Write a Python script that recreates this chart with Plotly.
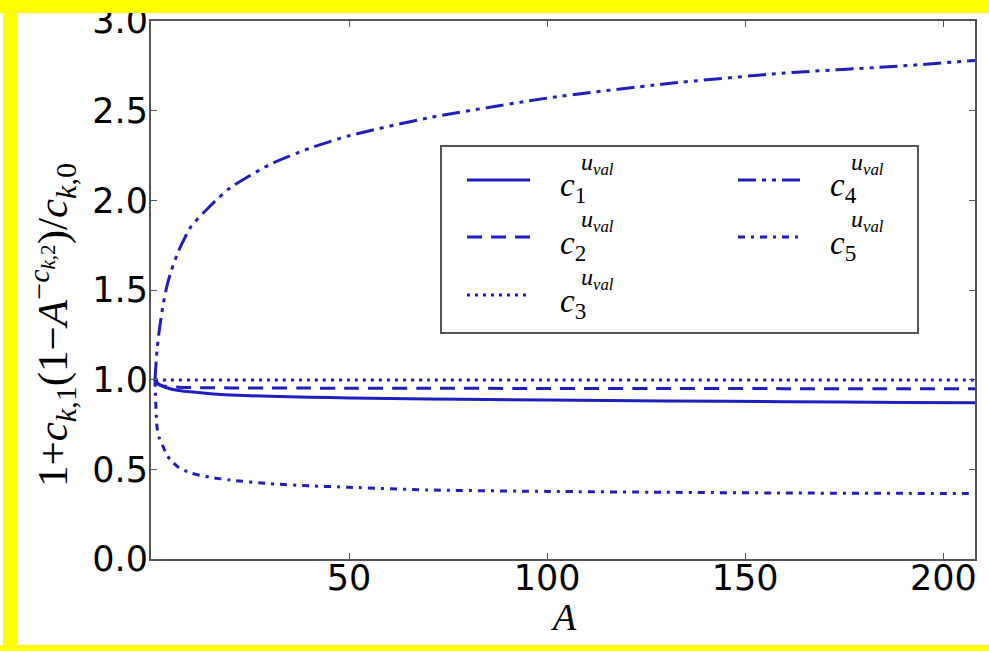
import plotly.graph_objects as go

# Mass number A and the ratio 1 + c_{k,1}(1 - A^{-c_{k,2}})/c_{k,0} for each coefficient
A = [1, 1.5, 2, 3, 4, 5, 7, 10, 15, 20, 30, 40, 50, 70, 100, 130, 160, 190, 208]
c1 = [1.000, 0.985, 0.975, 0.962, 0.955, 0.948, 0.940, 0.932, 0.922, 0.915, 0.907, 0.902, 0.898, 0.892, 0.886, 0.881, 0.877, 0.873, 0.871]
c2 = [1.000, 0.980, 0.972, 0.965, 0.962, 0.960, 0.958, 0.956, 0.955, 0.954, 0.953, 0.953, 0.952, 0.952, 0.951, 0.951, 0.950, 0.950, 0.950]
c3 = [1.000, 0.999, 0.999, 0.998, 0.998, 0.998, 0.998, 0.998, 0.998, 0.998, 0.998, 0.998, 0.998, 0.998, 0.998, 0.998, 0.998, 0.998, 0.998]
c4 = [1.00, 1.16, 1.26, 1.41, 1.52, 1.60, 1.72, 1.85, 1.97, 2.07, 2.20, 2.29, 2.36, 2.46, 2.57, 2.65, 2.71, 2.75, 2.78]
c5 = [1.000, 0.740, 0.680, 0.630, 0.580, 0.550, 0.510, 0.480, 0.455, 0.440, 0.420, 0.408, 0.400, 0.385, 0.377, 0.372, 0.368, 0.366, 0.365]

x_ticks = [50, 100, 150, 200]
y_ticks = [0.0, 0.5, 1.0, 1.5, 2.0, 2.5, 3.0]
y_ticklabels = ["0.0", "0.5", "1.0", "1.5", "2.0", "2.5", "3.0"]

series_names = ["1", "2", "3", "4", "5"]
series_values = [c1, c2, c3, c4, c5]

BLUE = "#1f1fbf"
YELLOW = "#ffff00"
dashes = ["solid", "15px,9px", "3px,5px", "18px,6px,4px,6px,4px,6px", "7px,6px,3px,6px"]

# figure geometry (pixels)
W, H = 989, 651
L, R, T, B = 151, 975, 21, 559
PW, PH = R - L, B - T


def px(xp):
    return (xp - L) / PW


def py(yp):
    return (B - yp) / PH


fig = go.Figure()
for name, vals, dash in zip(series_names, series_values, dashes):
    fig.add_trace(go.Scatter(
        x=A, y=vals, mode="lines", name=name,
        line=dict(color=BLUE, width=3, dash=dash, shape="spline", smoothing=0.6),
        showlegend=False,
    ))

shapes = []
annotations = []

# yellow frame on the top, left and bottom edges (drawn on top, it clips the top tick label)
for (x0, x1, y0, y1) in [(0, W, 0, 13), (3, 17, 0, 651), (0, W, 645, 651)]:
    shapes.append(dict(type="rect", xref="paper", yref="paper",
                       x0=px(x0), x1=px(x1), y0=py(y1), y1=py(y0),
                       fillcolor=YELLOW, line=dict(width=0), layer="above"))

# legend box
shapes.append(dict(type="rect", xref="paper", yref="paper",
                   x0=px(441), x1=px(918), y0=py(333), y1=py(146),
                   fillcolor="white", line=dict(color="#555555", width=2), layer="above"))

# legend rows: (sample x0, sample x1, row y, label x)
legend_pos = [
    (467, 530, 180, 558),
    (467, 530, 237, 558),
    (467, 530, 295, 558),
    (738, 800, 180, 828),
    (738, 800, 237, 828),
]
for name, dash, (sx0, sx1, ry, lx) in zip(series_names, dashes, legend_pos):
    shapes.append(dict(type="line", xref="paper", yref="paper",
                       x0=px(sx0), x1=px(sx1), y0=py(ry), y1=py(ry),
                       line=dict(color=BLUE, width=3, dash=dash), layer="above"))
    annotations.append(dict(xref="paper", yref="paper", x=px(lx), y=py(ry + 8),
                            text="<i>c</i><sub>" + name + "</sub>", showarrow=False,
                            xanchor="left", yanchor="middle",
                            font=dict(family="Liberation Serif", size=33, color="black")))
    annotations.append(dict(xref="paper", yref="paper", x=px(lx + 21), y=py(ry - 16),
                            text="<i>u</i><sub><i>val</i></sub>", showarrow=False,
                            xanchor="left", yanchor="middle",
                            font=dict(family="Liberation Serif", size=24, color="black")))

# axis titles
annotations.append(dict(xref="paper", yref="paper", x=px(563), y=py(617),
                        text="<i>A</i>", showarrow=False, xanchor="center", yanchor="middle",
                        font=dict(family="Liberation Serif", size=38, color="black")))
annotations.append(dict(xref="paper", yref="paper", x=px(52), y=py(325),
                        text="1+<i>c</i><sub><i>k</i>,1</sub>(1\u2212<i>A</i><sup>\u2212<i>c</i><sub><i>k</i>,2</sub></sup>)/<i>c</i><sub><i>k</i>,0</sub>",
                        showarrow=False, textangle=-90, xanchor="center", yanchor="middle",
                        font=dict(family="Liberation Serif", size=43, color="black")))

axis_common = dict(showgrid=False, zeroline=False, showline=True, linecolor="#555555",
                   linewidth=2, mirror="allticks", ticks="inside", ticklen=6,
                   tickcolor="#555555", tickwidth=1, automargin=False,
                   tickfont=dict(family="DejaVu Sans", size=35, color="black"))

fig.update_layout(
    width=W, height=H,
    margin=dict(l=L, r=W - R, t=T, b=H - B),
    paper_bgcolor="white", plot_bgcolor="white",
    xaxis=dict(range=[0, 208], tickvals=x_ticks, ticklabelstandoff=-13, **axis_common),
    yaxis=dict(range=[0, 3.0], tickvals=y_ticks, ticktext=y_ticklabels, ticklabelstandoff=-6, **axis_common),
    shapes=shapes, annotations=annotations,
)

fig.write_html("out.html")
